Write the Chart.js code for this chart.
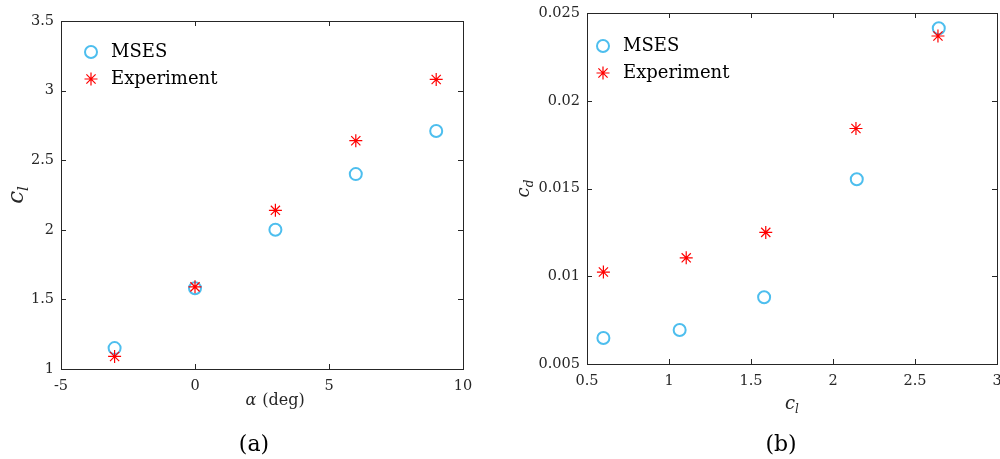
<!DOCTYPE html>
<html>
<head>
<meta charset="utf-8">
<script src="https://cdn.jsdelivr.net/npm/chart.js@4"></script>
<style>
  body { margin: 0; background: #fff; overflow: hidden; }
  #wrap { position: relative; width: 1000px; height: 459px; overflow: hidden; }
  canvas { position: absolute; top: 0; }
  #chartA { left: 0; }
  #chartB { left: 480px; }
</style>
</head>
<body>
<div id="wrap">
  <canvas id="chartA" width="480" height="459"></canvas>
  <canvas id="chartB" width="525" height="459"></canvas>
</div>
<script>
// (a) lift coefficient vs angle of attack
var alphaDeg = [-3, 0, 3, 6, 9];
var clMsesA = [1.15, 1.58, 2.0, 2.40, 2.71];
var clExpA = [1.09, 1.59, 2.14, 2.64, 3.08];
var xTicksA = ["-5", "0", "5", "10"];
var yTicksA = ["1", "1.5", "2", "2.5", "3", "3.5"];

// (b) drag polar
var clMsesB = [0.60, 1.065, 1.58, 2.145, 2.645];
var cdMsesB = [0.00648, 0.00694, 0.0088, 0.01553, 0.02413];
var clExpB = [0.60, 1.105, 1.59, 2.14, 2.64];
var cdExpB = [0.01024, 0.01105, 0.0125, 0.01842, 0.02369];
var xTicksB = ["0.5", "1", "1.5", "2", "2.5", "3"];
var yTicksB = ["0.005", "0.01", "0.015", "0.02", "0.025"];

var seriesNames = ["MSES", "Experiment"];
var SERIF = "DejaVu Serif";
var AXIS_COLOR = "#262626";

function toPoints(xs, ys) {
    return xs.map(function (x, i) { return { x: x, y: ys[i] }; });
}

// draws a row of text pieces (for subscripts), centred on x,y
function drawParts(ctx, parts, x, y, rotate) {
    ctx.save();
    ctx.translate(x, y);
    if (rotate) ctx.rotate(-Math.PI / 2);
    ctx.textBaseline = "alphabetic";
    ctx.fillStyle = AXIS_COLOR;
    var total = 0;
    parts.forEach(function (p) {
        ctx.font = p.font;
        p.w = ctx.measureText(p.text).width;
        total += p.w + (p.gap || 0);
    });
    var cx = -total / 2;
    parts.forEach(function (p) {
        ctx.font = p.font;
        ctx.textAlign = "left";
        ctx.fillText(p.text, cx, (p.dy || 0));
        cx += p.w + (p.gap || 0);
    });
    ctx.restore();
}

var decorPlugin = {
    id: "decor",
    afterDraw: function (chart) {
        var ctx = chart.ctx;
        var a = chart.chartArea;
        var xs = chart.scales.x;
        var ys = chart.scales.y;
        var d = chart.options.plugins.decor;

        // box + inward ticks on four sides
        ctx.save();
        ctx.strokeStyle = AXIS_COLOR;
        ctx.lineWidth = 1;
        ctx.strokeRect(Math.round(a.left) + 0.5, Math.round(a.top) + 0.5,
            Math.round(a.width), Math.round(a.height));
        ctx.beginPath();
        xs.ticks.forEach(function (t) {
            var px = Math.round(xs.getPixelForValue(t.value)) + 0.5;
            ctx.moveTo(px, a.bottom); ctx.lineTo(px, a.bottom - 5);
            ctx.moveTo(px, a.top); ctx.lineTo(px, a.top + 5);
        });
        ys.ticks.forEach(function (t) {
            var py = Math.round(ys.getPixelForValue(t.value)) + 0.5;
            ctx.moveTo(a.left, py); ctx.lineTo(a.left + 5, py);
            ctx.moveTo(a.right, py); ctx.lineTo(a.right - 5, py);
        });
        ctx.stroke();
        ctx.restore();

        // legend
        chart.data.datasets.forEach(function (ds, i) {
            var ly = a.top + d.legendY + i * 27;
            ctx.save();
            ctx.strokeStyle = ds.borderColor;
            ctx.fillStyle = "rgba(0,0,0,0)";
            ctx.lineWidth = ds.borderWidth;
            Chart.helpers.drawPoint(ctx, {
                pointStyle: ds.pointStyle, radius: ds.pointRadius,
                borderWidth: ds.borderWidth, rotation: 0
            }, a.left + d.legendX, ly);
            ctx.restore();
            ctx.save();
            ctx.font = "18px '" + SERIF + "'";
            ctx.fillStyle = "#000";
            ctx.textBaseline = "middle";
            ctx.textAlign = "left";
            ctx.fillText(ds.label, a.left + d.legendX + 20, ly);
            ctx.restore();
        });

        // axis titles and caption
        var cx = (a.left + a.right) / 2;
        var cy = (a.top + a.bottom) / 2;
        drawParts(ctx, d.xTitle, cx + d.xTitleDx, a.bottom + d.xTitleDy, false);
        drawParts(ctx, d.yTitle, a.left - d.yTitleDx, cy, true);
        ctx.save();
        ctx.font = "22px '" + SERIF + "'";
        ctx.fillStyle = "#000";
        ctx.textAlign = "center";
        ctx.textBaseline = "middle";
        ctx.fillText(d.caption, cx + d.captionDx, a.bottom + d.captionDy);
        ctx.restore();
    }
};

function makeChart(id, mses, exp, xr, yr, xLabels, yLabels, sizes, decor) {
    var ctx = document.getElementById(id).getContext("2d");
    var tickFont = { family: SERIF, size: 14.5 };
    return new Chart(ctx, {
        type: "scatter",
        data: {
            datasets: [
                {
                    label: seriesNames[0],
                    data: mses,
                    pointStyle: "circle",
                    pointRadius: 6,
                    borderWidth: 2,
                    borderColor: "#4DBEEE",
                    backgroundColor: "rgba(0,0,0,0)",
                    order: 2,
                },
                {
                    label: seriesNames[1],
                    data: exp,
                    pointStyle: "star",
                    pointRadius: 6.5,
                    borderWidth: 1.2,
                    borderColor: "#FF0000",
                    backgroundColor: "#FF0000",
                    order: 1,
                },
            ],
        },
        options: {
            responsive: false,
            animation: false,
            layout: { padding: sizes.padding },
            plugins: {
                legend: { display: false },
                tooltip: { enabled: false },
                decor: decor,
            },
            scales: {
                x: {
                    min: xr[0], max: xr[1],
                    ticks: {
                        stepSize: xr[2], font: tickFont, color: AXIS_COLOR, padding: 9,
                        maxRotation: 0,
                        callback: function (v, i) { return xLabels[i]; },
                    },
                    grid: { display: false, drawTicks: false },
                    border: { display: false },
                    afterFit: function (s) {
                        s.height = sizes.xHeight;
                        s.paddingLeft = 0;
                        s.paddingRight = 0;
                    },
                },
                y: {
                    min: yr[0], max: yr[1],
                    ticks: {
                        stepSize: yr[2], font: tickFont, color: AXIS_COLOR, padding: 7,
                        callback: function (v, i) { return yLabels[i]; },
                    },
                    grid: { display: false, drawTicks: false },
                    border: { display: false },
                    afterFit: function (s) {
                        s.width = sizes.yWidth;
                        s.paddingTop = 0;
                        s.paddingBottom = 0;
                    },
                },
            },
        },
        plugins: [decorPlugin],
    });
}

var it = "italic ";
makeChart("chartA", toPoints(alphaDeg, clMsesA), toPoints(alphaDeg, clExpA),
    [-5, 10, 5], [1, 3.5, 0.5], xTicksA, yTicksA,
    { padding: { left: 0, right: 17, top: 21, bottom: 0 }, xHeight: 90, yWidth: 61 },
    {
        legendX: 30, legendY: 31,
        xTitle: [
            { text: "α", font: it + "16px '" + SERIF + "'", gap: 6 },
            { text: "(deg)", font: "16px '" + SERIF + "'" },
        ],
        xTitleDx: 13, xTitleDy: 36,
        yTitle: [
            { text: "c", font: it + "23px '" + SERIF + "'" },
            { text: "l", font: it + "15px '" + SERIF + "'", dy: 5 },
        ],
        yTitleDx: 38,
        caption: "(a)", captionDx: -8, captionDy: 76,
    });

makeChart("chartB", toPoints(clMsesB, cdMsesB), toPoints(clExpB, cdExpB),
    [0.5, 3, 0.5], [0.005, 0.025, 0.005], xTicksB, yTicksB,
    { padding: { left: 0, right: 0, top: 13, bottom: 0 }, xHeight: 95, yWidth: 107 },
    {
        legendX: 16, legendY: 33,
        xTitle: [
            { text: "c", font: it + "18px '" + SERIF + "'" },
            { text: "l", font: it + "12px '" + SERIF + "'", dy: 4 },
        ],
        xTitleDx: 0, xTitleDy: 45,
        yTitle: [
            { text: "c", font: it + "18px '" + SERIF + "'" },
            { text: "d", font: it + "12px '" + SERIF + "'", dy: 4 },
        ],
        yTitleDx: 58,
        caption: "(b)", captionDx: -11, captionDy: 81,
    });
</script>
</body>
</html>
